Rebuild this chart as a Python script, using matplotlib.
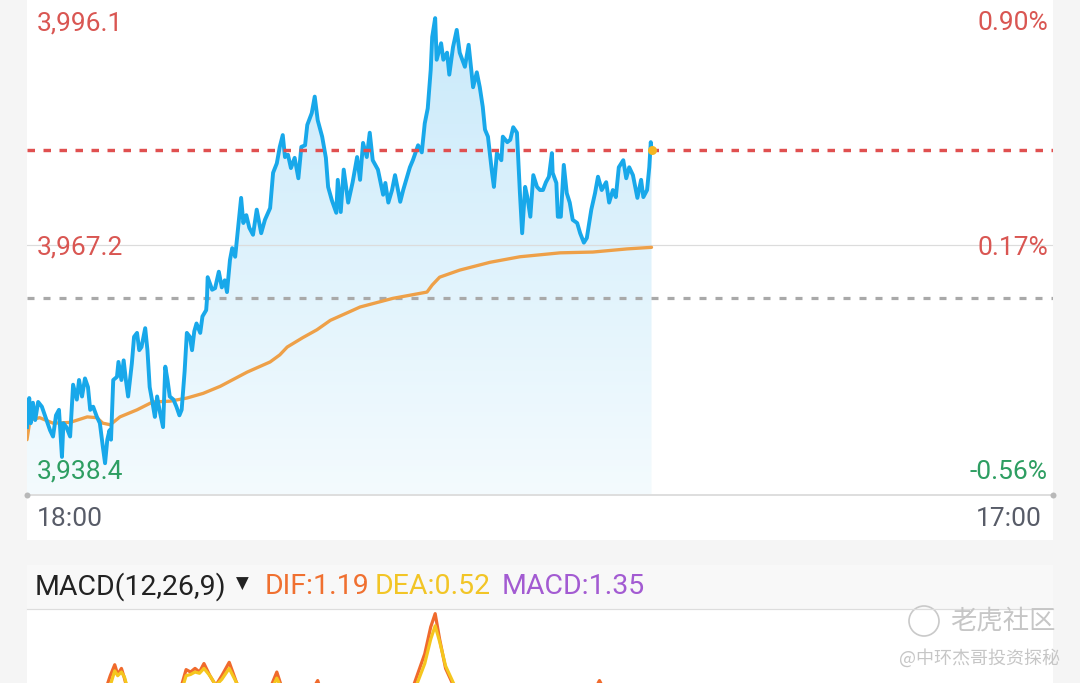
import matplotlib
matplotlib.use('Agg')
import matplotlib.pyplot as plt
import numpy as np
from matplotlib.colors import LinearSegmentedColormap
from matplotlib.patches import Rectangle, Circle
from matplotlib.transforms import IdentityTransform

# ---------------- data ----------------
minutes = [0, 3, 5, 8, 11, 15, 20, 24, 31, 35, 39, 43, 47, 49, 53, 58, 62, 67, 70, 74,
           78, 82, 85, 89, 94, 98, 102, 105, 108, 111, 113, 116, 121, 123, 127, 130, 133, 136, 141, 144,
           148, 151, 154, 159, 162, 165, 169, 172, 175, 179, 183, 186, 189, 192, 197, 201, 205, 208, 212, 215,
           219, 222, 225, 228, 233, 236, 241, 242, 243, 249, 253, 258, 262, 266, 269, 273, 276, 280, 284, 288,
           291, 295, 299, 304, 309, 315, 320, 327, 331, 336, 340, 344, 347, 351, 355, 360, 365, 369, 374, 377,
           383, 387, 391, 397, 402, 405, 410, 416, 418, 422, 426, 432, 438, 444, 448, 452, 457, 461, 465, 472,
           479, 482, 486, 491, 495, 499, 502, 506, 515, 519, 526, 531, 535, 539, 543, 545, 549, 551, 557, 560,
           565, 568, 573, 578, 582, 589, 594, 600, 605, 609, 613, 616, 620, 625, 628, 632, 638, 640, 646, 650,
           654, 659, 663, 666, 670, 673, 677, 681, 686, 690, 694, 698, 702, 706, 707, 712, 714, 718, 722, 726,
           730, 734, 740, 744, 749, 753, 759, 764, 768, 773, 779, 783, 788, 792, 796, 802, 806, 810, 815, 821,
           826, 829, 834, 837, 839, 840]
prices = [3944.0, 3947.7, 3944.5, 3947.1, 3944.9, 3947.2, 3946.6, 3945.5, 3943.6, 3942.8, 3945.5, 3946.2, 3940.2, 3944.5, 3944.0, 3942.8, 3949.4, 3947.5, 3950.0, 3947.9,
          3950.2, 3949.1, 3946.2, 3946.6, 3945.3, 3944.5, 3941.5, 3939.4, 3942.4, 3943.6, 3942.4, 3950.0, 3950.4, 3952.3, 3950.0, 3952.5, 3950.0, 3947.9, 3952.1, 3955.5,
          3956.0, 3953.8, 3954.2, 3956.6, 3953.8, 3949.1, 3947.0, 3945.3, 3947.9, 3945.8, 3944.0, 3951.7, 3950.0, 3947.9, 3947.5, 3946.6, 3945.5, 3946.2, 3951.1, 3956.0,
          3955.5, 3953.8, 3956.2, 3957.2, 3956.0, 3958.1, 3958.9, 3960.2, 3963.1, 3961.5, 3961.7, 3963.8, 3961.8, 3962.7, 3961.2, 3965.3, 3966.8, 3965.7, 3969.5, 3973.2,
          3970.0, 3971.0, 3969.4, 3968.5, 3971.7, 3968.7, 3970.4, 3971.9, 3976.4, 3977.6, 3979.7, 3981.2, 3978.4, 3978.7, 3977.0, 3978.3, 3975.7, 3979.7, 3979.9, 3982.5,
          3984.0, 3986.1, 3983.1, 3981.0, 3978.3, 3974.6, 3972.9, 3971.3, 3975.5, 3971.4, 3976.8, 3972.6, 3975.2, 3978.4, 3975.5, 3980.2, 3978.4, 3981.5, 3978.0, 3976.8,
          3973.6, 3975.1, 3972.6, 3974.2, 3976.1, 3974.2, 3972.7, 3974.2, 3977.1, 3978.0, 3979.9, 3979.0, 3982.7, 3984.6, 3989.5, 3993.7, 3996.1, 3990.8, 3992.9, 3990.8,
          3991.7, 3988.9, 3992.4, 3994.6, 3991.7, 3989.9, 3992.7, 3987.3, 3989.2, 3987.3, 3984.8, 3981.9, 3981.0, 3976.8, 3974.6, 3978.9, 3978.0, 3981.0, 3980.3, 3980.6,
          3982.2, 3981.5, 3973.8, 3968.7, 3974.6, 3973.3, 3970.8, 3976.1, 3974.6, 3974.2, 3974.2, 3975.2, 3975.9, 3978.9, 3976.4, 3975.1, 3970.8, 3970.8, 3977.4, 3973.8,
          3972.6, 3970.4, 3970.0, 3968.7, 3967.5, 3968.1, 3971.7, 3973.8, 3975.9, 3974.2, 3975.2, 3972.6, 3974.2, 3973.3, 3977.1, 3978.0, 3975.7, 3977.1, 3976.1, 3973.2,
          3975.5, 3973.3, 3974.2, 3977.1, 3980.3, 3979.3]

avg_minutes = [0, 4, 17, 35, 58, 81, 94, 102, 112, 125, 148, 169, 192, 215, 237, 260, 282, 296, 327, 340,
               350, 371, 390, 408, 434, 448, 492, 538, 545, 555, 582, 623, 663, 717, 761, 807, 840]
avg_prices = [3942.4, 3944.9, 3945.2, 3944.5, 3944.6, 3945.3, 3945.2, 3944.5, 3944.3, 3945.3, 3946.2, 3947.2, 3947.3, 3947.7, 3948.3, 3949.2, 3950.3, 3951.0, 3952.3, 3953.2,
              3954.2, 3955.4, 3956.4, 3957.6, 3958.7, 3959.3, 3960.4, 3961.2, 3962.1, 3963.1, 3964.0, 3965.0, 3965.7, 3966.2, 3966.3, 3966.7, 3966.9]

macd_minutes = [0, 100, 112, 118, 122, 127, 131, 136, 142, 170, 205, 214, 220, 226, 232, 238, 246, 254, 262, 272,
                282, 290, 300, 320, 330, 336, 345, 380, 391, 400, 480, 520, 535, 543, 549, 555, 563, 575, 600, 640,
                700, 760, 770, 778, 790, 840]
dif = [0.5, 1.2, 2.3, 2.75, 2.35, 2.6, 2.2, 1.6, 1.2, 0.8, 1.6, 2.55, 2.45, 2.6, 2.45, 2.8, 2.3, 1.9, 2.3, 2.85,
       2.0, 1.6, 1.5, 1.3, 2.0, 2.45, 1.6, 1.5, 2.1, 1.2, 0.8, 1.9, 3.2, 4.3, 4.85, 3.8, 2.6, 1.8, 1.5, 1.0,
       0.6, 1.5, 2.1, 1.6, 1.0, 1.19]
dea = [0.3, 1.0, 1.9, 2.5, 2.3, 2.45, 2.25, 1.7, 1.3, 0.8, 1.4, 2.3, 2.35, 2.45, 2.4, 2.6, 2.3, 1.9, 2.15, 2.6,
       2.0, 1.6, 1.4, 1.2, 1.8, 2.2, 1.6, 1.4, 1.9, 1.2, 0.7, 1.6, 2.8, 3.8, 4.35, 3.7, 2.7, 1.9, 1.5, 1.0,
       0.5, 1.3, 1.8, 1.6, 0.9, 0.52]

last_price = 3979.3
prev_close = 3960.5
mid_price = 3967.2
left_labels = ['3,996.1', '3,967.2', '3,938.4']
right_labels = ['0.90%', '0.17%', '-0.56%']
time_labels = ['18:00', '17:00']
session_len = 1380
macd_title = 'MACD(12,26,9)'
dif_label = 'DIF:1.19'
dea_label = 'DEA:0.52'
macd_label = 'MACD:1.35'

# ---------------- layout helpers ----------------
W, H = 1080, 683
plt.rcParams['lines.scale_dashes'] = False
FONT = ['Roboto', 'DejaVu Sans']
fig = plt.figure(figsize=(W / 100, H / 100), dpi=100)
fig.patch.set_facecolor('#f5f5f5')


def fx(x):
    return x / W


def fy(y):
    return 1 - y / H


def px2pt(p):
    return p * 72 / 100


# background panels (behind axes)
for (x0, y0, x1, y1, c) in [(27, 0, 1053, 540, 'white'),
                            (27, 565, 1053, 683, '#f8f8f8'),
                            (27, 609, 1053, 683, 'white')]:
    r = Rectangle((fx(x0), fy(y1)), (x1 - x0) / W, (y1 - y0) / H,
                  transform=fig.transFigure, facecolor=c, edgecolor='none', zorder=-5)
    fig.add_artist(r)

# ---------------- main price axes ----------------
ax = fig.add_axes([fx(27), fy(495), (1053 - 27) / W, 495 / H])
ax.set_xlim(0, session_len)
ymin, ymax = 3935.35, 3998.41
ax.set_ylim(ymin, ymax)
ax.axis('off')
ax.patch.set_alpha(0)

t = np.array(minutes, dtype=float)
p = np.array(prices)

# gradient fill under the price line
poly = ax.fill_between(t, p, ymin, facecolor='none', edgecolor='none')
cmap = LinearSegmentedColormap.from_list('g', ['#f4fbfe', '#c8e9fa'])
grad = np.linspace(0, 1, 256).reshape(-1, 1)
im = ax.imshow(grad, cmap=cmap, origin='lower', aspect='auto',
               extent=[t[0], t[-1], ymin, ymax], zorder=1)
im.set_clip_path(poly.get_paths()[0], transform=ax.transData)
ax.set_xlim(0, session_len)
ax.set_ylim(ymin, ymax)

# reference lines
ax.axhline(mid_price, color='#dcdcdc', lw=px2pt(1.2), zorder=2)
l1, = ax.plot([0, session_len], [prev_close, prev_close], color='#a9a9a9', lw=px2pt(3.2), zorder=2)
l1.set_dashes((px2pt(7), px2pt(9)))
l2, = ax.plot([0, session_len], [last_price, last_price], color='#e05050', lw=px2pt(3.4), zorder=5)
l2.set_dashes((px2pt(7.5), px2pt(8.5)))

# average and price lines
ax.plot(avg_minutes, avg_prices, color='#eea048', lw=px2pt(3.3), zorder=3,
        solid_joinstyle='round', solid_capstyle='round')
ax.plot(t, p, color='#18a8ea', lw=px2pt(3.9), zorder=4, solid_joinstyle='round')
ax.plot([t[-1]], [last_price], 'o', color='#f4b623', ms=px2pt(9), mec='none', zorder=6)

# bottom axis line with end dots
ax.plot([0, session_len], [ymin, ymin], color='#dedede', lw=px2pt(2), clip_on=False, zorder=2)
ax.plot([0, session_len], [ymin, ymin], 'o', color='#b8b8b8', ms=px2pt(6), mec='none', clip_on=False, zorder=2)

# labels
red = '#d95652'
green = '#2e9e62'
lab_fs = 19
ys = [23, 248, 472]
cols = [red, red, green]
for lab, yy, c in zip(left_labels, ys, cols):
    fig.text(fx(37), fy(yy), lab, color=c, fontsize=lab_fs, family=FONT, va='center', ha='left')
for lab, yy, c in zip(right_labels, ys, cols):
    fig.text(fx(1048), fy(yy), lab, color=c, fontsize=lab_fs, family=FONT, va='center', ha='right')
fig.text(fx(37), fy(519), time_labels[0], color='#585c68', fontsize=lab_fs, family=FONT, va='center', ha='left')
fig.text(fx(1042), fy(519), time_labels[1], color='#585c68', fontsize=lab_fs, family=FONT, va='center', ha='right')

# ---------------- MACD panel ----------------
hdr_y = 587
hdr_fs = 20.5
fig.add_artist(plt.Line2D([fx(27), fx(1053)], [fy(609), fy(609)], color='#dddddd', lw=px2pt(1.2)))
fig.text(fx(35), fy(hdr_y), macd_title, color='#222222', fontsize=hdr_fs, family=FONT, va='center')
fig.text(fx(236), fy(hdr_y - 3), '\u25BC', color='#222222', fontsize=12, family=FONT, va='center')
fig.text(fx(265), fy(hdr_y), dif_label, color='#f07030', fontsize=hdr_fs, family=FONT, va='center')
fig.text(fx(375), fy(hdr_y), dea_label, color='#f2c526', fontsize=hdr_fs, family=FONT, va='center')
fig.text(fx(502), fy(hdr_y), macd_label, color='#a35bd2', fontsize=hdr_fs, family=FONT, va='center')

# MACD axis extends below the visible area; only peaks show
top_px, bot_px = 610, 760
axm = fig.add_axes([fx(27), fy(bot_px), (1053 - 27) / W, (bot_px - top_px) / H])
axm.set_xlim(0, session_len)
axm.set_ylim(5.0 - (bot_px - top_px) / 24.33, 5.0)
axm.axis('off')
axm.patch.set_alpha(0)
axm.plot(macd_minutes, dif, color='#f06a2c', lw=px2pt(3.2), solid_joinstyle='round')
axm.plot(macd_minutes, dea, color='#f5c61e', lw=px2pt(3.2), solid_joinstyle='round')

# watermark
fig.add_artist(Circle((924, H - 621), 15, transform=IdentityTransform(), fill=False,
                      edgecolor='#c9c9c9', lw=1.2))
fig.text(fx(950), fy(621), '老虎社区', color='#c6c6c6', fontsize=19,
         family=['Noto Sans CJK SC', 'DejaVu Sans'], va='center', ha='left')
fig.text(fx(1060), fy(658), '@中环杰哥投资探秘', color='#c6c6c6', fontsize=13,
         family=['Noto Sans CJK SC', 'DejaVu Sans'], va='center', ha='right')

fig.savefig('out.png', dpi=100, facecolor=fig.get_facecolor())
